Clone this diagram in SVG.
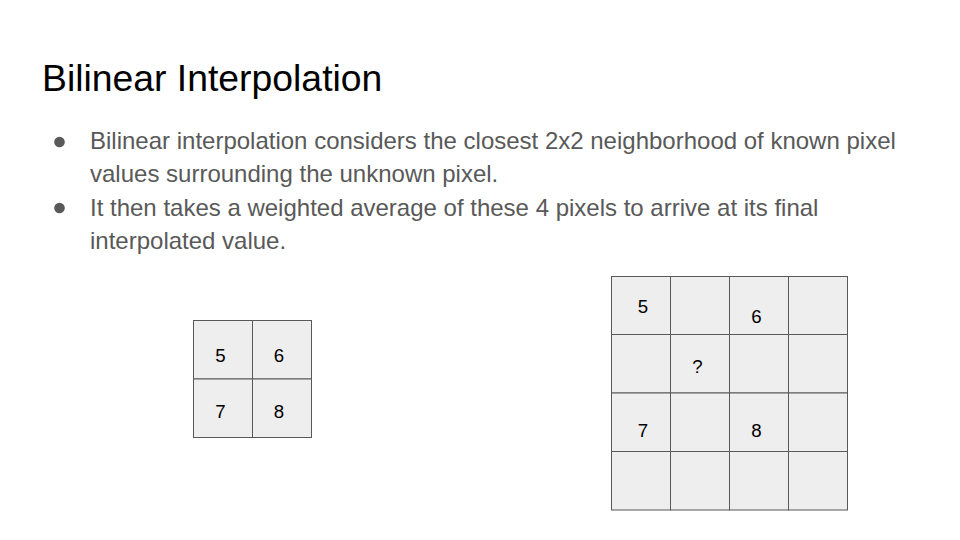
<svg xmlns="http://www.w3.org/2000/svg" width="960" height="540" viewBox="0 0 960 540">
<style>
.title{font-family:"Liberation Sans",Arial,sans-serif;font-size:37.33px;fill:#000}
.body{font-family:"Liberation Sans",Arial,sans-serif;font-size:24px;fill:#595959}
.cell{fill:#eeeeee;stroke:#595959;stroke-width:1}
.num{font-family:"Liberation Sans",Arial,sans-serif;font-size:18.67px;fill:#000;text-anchor:middle}
.dot{fill:#595959}
</style>
<rect width="960" height="540" fill="#fff"/>
<text class="title" x="42" y="91">Bilinear Interpolation</text>
<circle class="dot" cx="59.5" cy="142" r="5.3"/>
<circle class="dot" cx="59.5" cy="208" r="5.3"/>
<text class="body" x="90" y="149">Bilinear interpolation considers the closest 2x2 neighborhood of known pixel</text>
<text class="body" x="90" y="182">values surrounding the unknown pixel.</text>
<text class="body" x="90" y="216">It then takes a weighted average of these 4 pixels to arrive at its final</text>
<text class="body" x="90" y="249">interpolated value.</text>
<g id="small-grid">
<g id="s00"><rect class="cell" x="193.5" y="320.5" width="59" height="58.5"/><text class="num" x="220.5" y="362">5</text></g>
<g id="s01"><rect class="cell" x="252.5" y="320.5" width="59" height="58.5"/><text class="num" x="279" y="362">6</text></g>
<g id="s10"><rect class="cell" x="193.5" y="379" width="59" height="58.5"/><text class="num" x="220.5" y="418">7</text></g>
<g id="s11"><rect class="cell" x="252.5" y="379" width="59" height="58.5"/><text class="num" x="279" y="418">8</text></g>
</g>
<g id="big-grid">
<g id="b00"><rect class="cell" x="611.5" y="276.5" width="59" height="58"/><text class="num" x="643" y="313">5</text></g>
<g id="b01"><rect class="cell" x="670.5" y="276.5" width="59" height="58"/></g>
<g id="b02"><rect class="cell" x="729.5" y="276.5" width="59" height="58"/><text class="num" x="756.5" y="323">6</text></g>
<g id="b03"><rect class="cell" x="788.5" y="276.5" width="59" height="58"/></g>
<g id="b10"><rect class="cell" x="611.5" y="334.5" width="59" height="58.5"/></g>
<g id="b11"><rect class="cell" x="670.5" y="334.5" width="59" height="58.5"/><text class="num" x="697.5" y="373">?</text></g>
<g id="b12"><rect class="cell" x="729.5" y="334.5" width="59" height="58.5"/></g>
<g id="b13"><rect class="cell" x="788.5" y="334.5" width="59" height="58.5"/></g>
<g id="b20"><rect class="cell" x="611.5" y="393" width="59" height="58.5"/><text class="num" x="643" y="437">7</text></g>
<g id="b21"><rect class="cell" x="670.5" y="393" width="59" height="58.5"/></g>
<g id="b22"><rect class="cell" x="729.5" y="393" width="59" height="58.5"/><text class="num" x="756.5" y="437">8</text></g>
<g id="b23"><rect class="cell" x="788.5" y="393" width="59" height="58.5"/></g>
<g id="b30"><rect class="cell" x="611.5" y="451.5" width="59" height="58.5"/></g>
<g id="b31"><rect class="cell" x="670.5" y="451.5" width="59" height="58.5"/></g>
<g id="b32"><rect class="cell" x="729.5" y="451.5" width="59" height="58.5"/></g>
<g id="b33"><rect class="cell" x="788.5" y="451.5" width="59" height="58.5"/></g>
</g>
<g id="connectors"/>
</svg>
